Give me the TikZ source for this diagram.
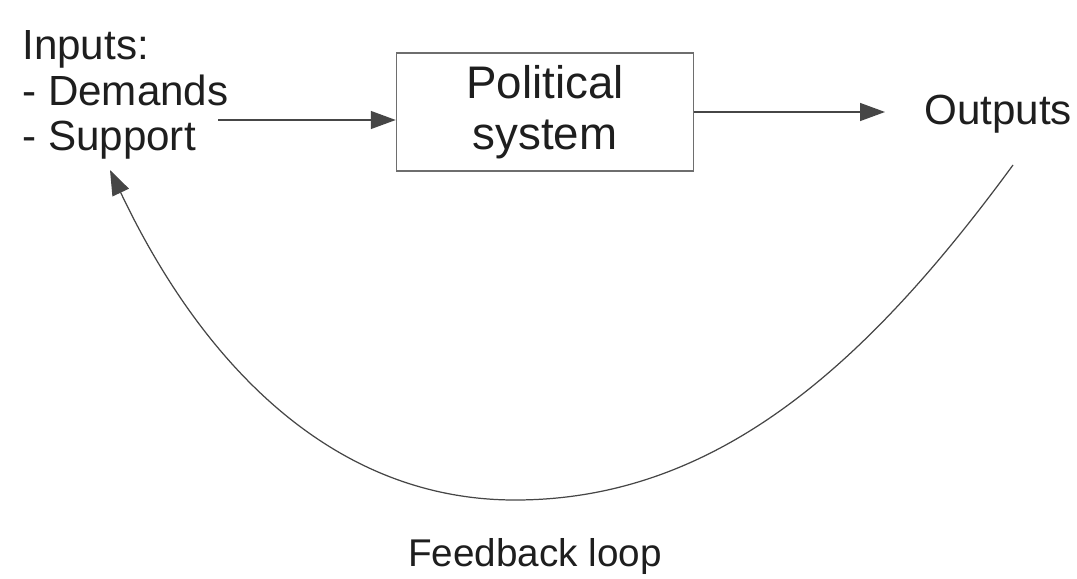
\documentclass[tikz,border=0pt]{standalone}
\usepackage{fontspec}
\setmainfont{Liberation Sans}
\usetikzlibrary{arrows.meta, positioning}
\definecolor{linegray}{RGB}{70, 70, 70}
\definecolor{boxgray}{RGB}{110, 110, 110}
\definecolor{textgray}{RGB}{30, 30, 30}

\begin{document}
\begin{tikzpicture}[
    x=0.02cm, y=-0.02cm,
    txt/.style={font=\fontsize{22}{26}\selectfont, text=textgray, inner sep=0pt},
    bigtxt/.style={txt, font=\fontsize{24}{26}\selectfont},
    sysbox/.style={rectangle, draw=boxgray, line width=0.9pt, minimum width=5.94cm, minimum height=2.36cm, align=center, txt, font=\fontsize{26}{29}\selectfont},
    arrow/.style={-{Triangle[length=5mm, width=3.6mm]}, draw=linegray, line width=0.8pt},
    loop/.style={-{Triangle[length=5mm, width=3.6mm]}, draw=linegray, line width=0.7pt}
]
\useasboundingbox (0,0) rectangle (1077,578);

% Main flow
\node[bigtxt, align=left, anchor=north west] (inputs) at (22,30) {Inputs:\\- Demands\\- Support};
\node[sysbox] (system) at (545,112) {Political\\system};
\node[bigtxt, anchor=west] (outputs) at (924,114) {Outputs};

\coordinate (infrom) at (218,120);
\coordinate (into) at (system.west |- infrom);

\draw[arrow] (infrom) -- (into);
\draw[arrow] (system.east |- 0,112) -- (885,112);

% Feedback loop
\coordinate (loopstart) at (1013,165);
\coordinate (loopend) at (110,170);
\draw[loop] (loopstart) .. controls (870,360) and (720,500) .. (515,500)
    .. controls (330,500) and (200,360) .. (loopend);

\node[txt] (feedback) at (535,556) {Feedback loop};
\end{tikzpicture}
\end{document}
